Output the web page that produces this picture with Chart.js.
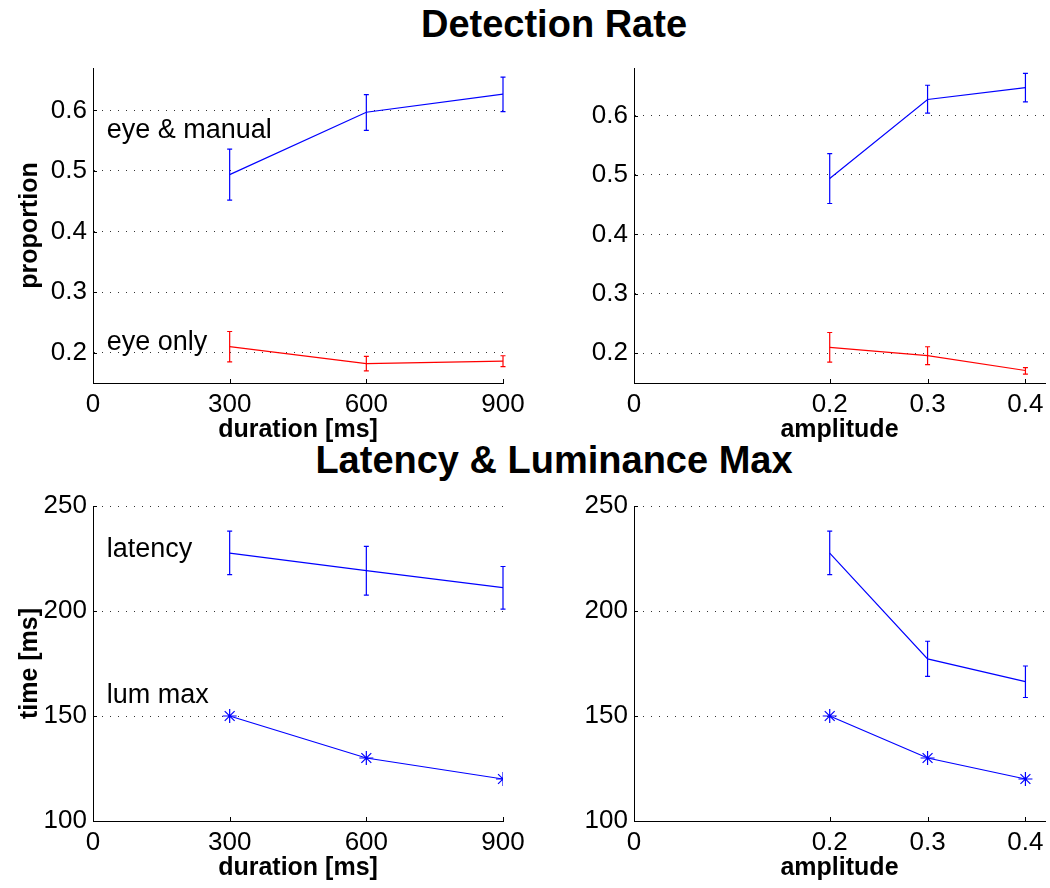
<!DOCTYPE html>
<html>
<head>
<meta charset="utf-8">
<script src="https://cdn.jsdelivr.net/npm/chart.js@4.4.1/dist/chart.umd.min.js"></script>
<style>
  html, body { margin: 0; padding: 0; background: #fff; overflow: hidden; }
  #fig { position: relative; width: 1050px; height: 888px; font-family: "Liberation Sans", Arial, sans-serif; }
  #fig canvas { position: absolute; }
  .suptitle { position: absolute; left: 0; width: 1108px; text-align: center; font-weight: bold; font-size: 38px; line-height: 38px; }
</style>
</head>
<body>
<div id="fig">
  <div class="suptitle" style="top:5px">Detection Rate</div>
  <div class="suptitle" style="top:441px">Latency &amp; Luminance Max</div>
  <canvas id="rateDur" width="543" height="415" style="left:0px;top:30px"></canvas>
  <canvas id="rateAmp" width="544" height="415" style="left:541px;top:30px"></canvas>
  <canvas id="timeDur" width="543" height="407" style="left:0px;top:476px"></canvas>
  <canvas id="timeAmp" width="544" height="407" style="left:541px;top:476px"></canvas>
</div>
<script>
// conditions
const durations = [300, 600, 900];
const amplitudes = [0.2, 0.3, 0.4];

// detection rate vs duration
const eyeManualDur = [0.494, 0.597, 0.627];
const eyeManualDurLo = [0.452, 0.567, 0.598];
const eyeManualDurHi = [0.536, 0.626, 0.655];
const eyeOnlyDur = [0.210, 0.182, 0.186];
const eyeOnlyDurLo = [0.185, 0.170, 0.177];
const eyeOnlyDurHi = [0.235, 0.194, 0.195];

// detection rate vs amplitude
const eyeManualAmp = [0.494, 0.627, 0.647];
const eyeManualAmpLo = [0.452, 0.604, 0.623];
const eyeManualAmpHi = [0.536, 0.651, 0.671];
const eyeOnlyAmp = [0.210, 0.196, 0.171];
const eyeOnlyAmpLo = [0.185, 0.181, 0.165];
const eyeOnlyAmpHi = [0.235, 0.211, 0.176];

// latency and luminance max
const latencyDur = [227.6, 219.2, 211.1];
const latencyDurLo = [217.3, 207.6, 200.9];
const latencyDurHi = [238.0, 230.8, 221.2];
const lumMaxDur = [150, 130, 120];
const latencyAmp = [227.6, 177.2, 166.4];
const latencyAmpLo = [217.3, 168.9, 158.8];
const latencyAmpHi = [238.0, 185.6, 173.8];
const lumMaxAmp = [150, 130, 120];

// ticks
const durationTicks = [0, 300, 600, 900];
const amplitudeTicks = [0, 0.2, 0.3, 0.4];
const proportionTicks = [0.2, 0.3, 0.4, 0.5, 0.6];
const timeTicks = [100, 150, 200, 250];

const BLUE = "#0000ff";
const RED = "#ff0000";

Chart.defaults.font.family = '"Liberation Sans", Arial, sans-serif';
Chart.defaults.color = "#000";

const pts = (xs, ys) => xs.map((x, i) => ({ x: x, y: ys[i] }));

// vertical error bars with small caps
const errorBars = {
  id: "errorBars",
  afterDatasetsDraw(chart) {
    const ctx = chart.ctx;
    const y = chart.scales.y;
    chart.data.datasets.forEach((ds, i) => {
      if (!ds.errLo) return;
      const meta = chart.getDatasetMeta(i);
      ctx.save();
      ctx.strokeStyle = ds.borderColor;
      ctx.lineWidth = 1.2;
      meta.data.forEach((pt, j) => {
        const top = y.getPixelForValue(ds.errHi[j]);
        const bot = y.getPixelForValue(ds.errLo[j]);
        ctx.beginPath();
        ctx.moveTo(pt.x, top); ctx.lineTo(pt.x, bot);
        ctx.moveTo(pt.x - 2.5, top); ctx.lineTo(pt.x + 2.5, top);
        ctx.moveTo(pt.x - 2.5, bot); ctx.lineTo(pt.x + 2.5, bot);
        ctx.stroke();
      });
      ctx.restore();
    });
  }
};

// matlab style tick marks pointing into the axes
const innerTicks = {
  id: "innerTicks",
  afterDraw(chart) {
    const { ctx, chartArea, scales } = chart;
    ctx.save();
    ctx.strokeStyle = "#000";
    ctx.lineWidth = 1;
    ctx.beginPath();
    scales.x.ticks.forEach(t => {
      const px = Math.round(scales.x.getPixelForValue(t.value)) + 0.5;
      ctx.moveTo(px, chartArea.bottom); ctx.lineTo(px, chartArea.bottom - 4);
    });
    scales.y.ticks.forEach(t => {
      const py = Math.round(scales.y.getPixelForValue(t.value)) + 0.5;
      ctx.moveTo(chartArea.left, py); ctx.lineTo(chartArea.left + 4, py);
    });
    ctx.stroke();
    ctx.restore();
  }
};

// text labels placed in data coordinates
const notes = {
  id: "notes",
  afterDraw(chart, args, opts) {
    if (!opts.items) return;
    const { ctx, scales } = chart;
    ctx.save();
    ctx.font = '27px "Liberation Sans", Arial, sans-serif';
    ctx.fillStyle = "#000";
    ctx.textAlign = "left";
    ctx.textBaseline = "alphabetic";
    opts.items.forEach(n => {
      ctx.fillText(n.text, scales.x.getPixelForValue(n.x), scales.y.getPixelForValue(n.y));
    });
    ctx.restore();
  }
};

const makePanel = (id, cfg) => {
  new Chart(document.getElementById(id), {
    type: "line",
    data: { datasets: cfg.datasets },
    options: {
      responsive: false,
      animation: false,
      layout: { padding: { top: cfg.padTop, right: 40, left: 0, bottom: 0 } },
      plugins: {
        legend: { display: false },
        tooltip: { enabled: false },
        notes: { items: cfg.notes }
      },
      scales: {
        x: {
          type: "linear",
          min: 0,
          max: cfg.xMax,
          afterBuildTicks: s => { s.ticks = cfg.xTicks.map(v => ({ value: v })); },
          afterFit: s => { s.height = 62; },
          grid: { display: false, drawTicks: false },
          border: { display: true, color: "#000", width: 1 },
          ticks: { font: { size: 26 }, padding: 6, maxRotation: 0, autoSkip: false, callback: v => String(v) },
          title: { display: true, text: cfg.xTitle, font: { size: 25, weight: "bold" }, padding: 0 }
        },
        y: {
          type: "linear",
          min: cfg.yMin,
          max: cfg.yMax,
          afterBuildTicks: s => { s.ticks = cfg.yTicks.map(v => ({ value: v })); },
          afterFit: s => { s.width = 93; },
          grid: { display: true, drawTicks: false, color: "#333", lineWidth: 1 },
          border: { display: true, color: "#000", width: 1, dash: [1, 7] },
          ticks: { font: { size: 26 }, padding: 6, autoSkip: false, callback: v => String(v) },
          title: { display: !!cfg.yTitle, text: cfg.yTitle || "", font: { size: 25, weight: "bold" }, padding: { top: 15, bottom: 0 } }
        }
      }
    },
    plugins: [errorBars, innerTicks, notes]
  });
};

const errLine = (xs, ys, lo, hi, color) => ({
  data: pts(xs, ys), borderColor: color, borderWidth: 1.2, pointRadius: 0,
  tension: 0, fill: false, errLo: lo, errHi: hi
});
const starLine = (xs, ys, color) => ({
  data: pts(xs, ys), borderColor: color, borderWidth: 1.2, tension: 0, fill: false,
  pointStyle: "star", pointRadius: 7, pointBorderColor: color, pointBorderWidth: 1.2,
  pointBackgroundColor: "rgba(0,0,0,0)"
});

makePanel("rateDur", {
  padTop: 38, xMax: 900, xTicks: durationTicks, xTitle: "duration [ms]",
  yMin: 0.15, yMax: 0.67, yTicks: proportionTicks, yTitle: "proportion",
  datasets: [
    errLine(durations, eyeManualDur, eyeManualDurLo, eyeManualDurHi, BLUE),
    errLine(durations, eyeOnlyDur, eyeOnlyDurLo, eyeOnlyDurHi, RED)
  ],
  notes: [{ text: "eye & manual", x: 30, y: 0.5545 }, { text: "eye only", x: 30, y: 0.2045 }]
});

makePanel("rateAmp", {
  padTop: 38, xMax: 0.42, xTicks: amplitudeTicks, xTitle: "amplitude",
  yMin: 0.15, yMax: 0.68, yTicks: proportionTicks,
  datasets: [
    errLine(amplitudes, eyeManualAmp, eyeManualAmpLo, eyeManualAmpHi, BLUE),
    errLine(amplitudes, eyeOnlyAmp, eyeOnlyAmpLo, eyeOnlyAmpHi, RED)
  ]
});

makePanel("timeDur", {
  padTop: 30, xMax: 900, xTicks: durationTicks, xTitle: "duration [ms]",
  yMin: 100, yMax: 250, yTicks: timeTicks, yTitle: "time [ms]",
  datasets: [
    errLine(durations, latencyDur, latencyDurLo, latencyDurHi, BLUE),
    starLine(durations, lumMaxDur, BLUE)
  ],
  notes: [{ text: "latency", x: 30, y: 225.9 }, { text: "lum max", x: 30, y: 156 }]
});

makePanel("timeAmp", {
  padTop: 30, xMax: 0.42, xTicks: amplitudeTicks, xTitle: "amplitude",
  yMin: 100, yMax: 250, yTicks: timeTicks,
  datasets: [
    errLine(amplitudes, latencyAmp, latencyAmpLo, latencyAmpHi, BLUE),
    starLine(amplitudes, lumMaxAmp, BLUE)
  ]
});
</script>
</body>
</html>
